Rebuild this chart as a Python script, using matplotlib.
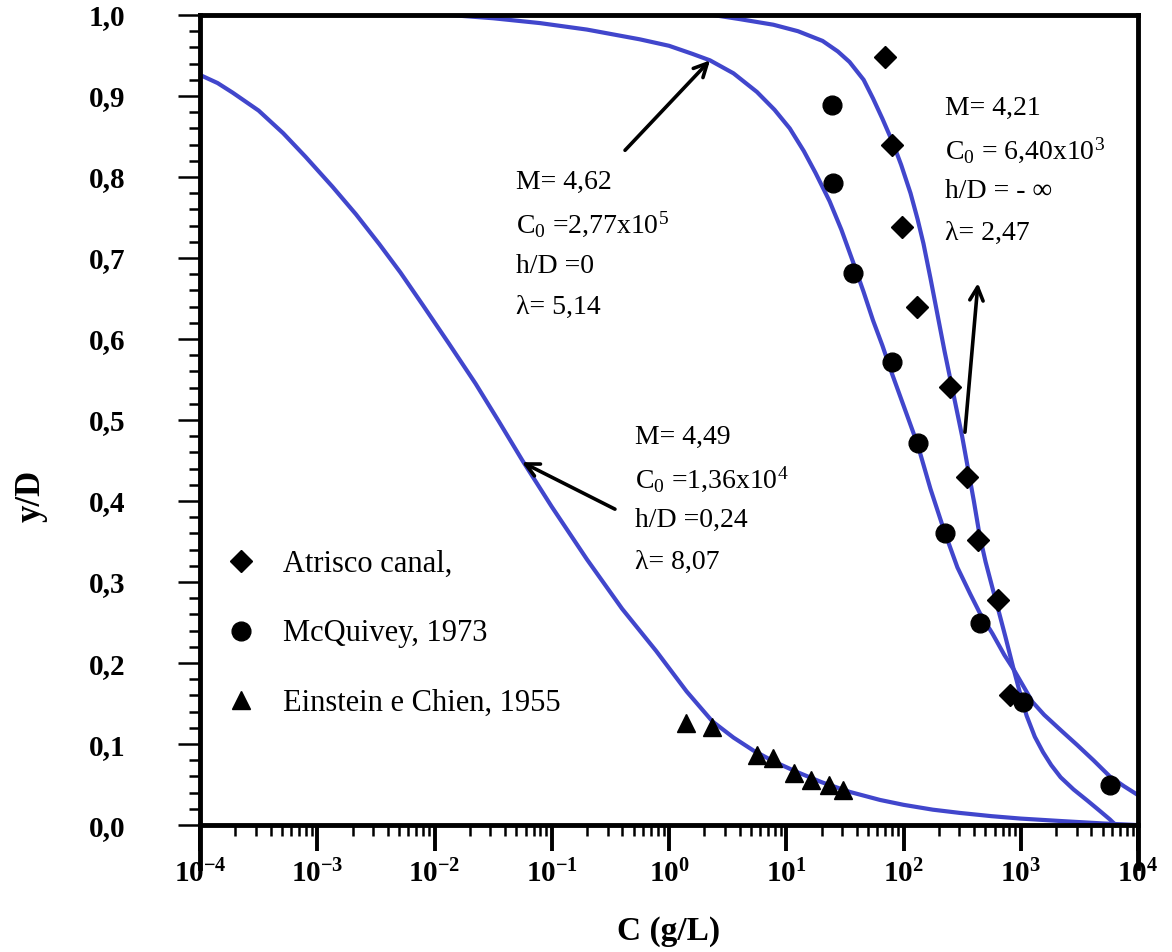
import numpy as np
import matplotlib
matplotlib.use('Agg')
import matplotlib.pyplot as plt
from matplotlib.ticker import FixedLocator, FixedFormatter, NullFormatter

plt.rcParams['font.family'] = ['Liberation Serif', 'DejaVu Serif']
plt.rcParams['mathtext.fontset'] = 'custom'
plt.rcParams['mathtext.rm'] = 'Liberation Serif'
plt.rcParams['mathtext.it'] = 'Liberation Serif:italic'
plt.rcParams['mathtext.bf'] = 'Liberation Serif:bold'

# --- dados medidos ---
# Atrisco canal
atrisco_c = [69.5, 79.8, 97.0, 130.0, 249.0, 348.0, 432.0, 640.0, 810.0]
atrisco_y = [0.948, 0.840, 0.738, 0.640, 0.541, 0.430, 0.352, 0.278, 0.160]

# McQuivey, 1973
mcq_c = [24.5, 25.1, 37.1, 79.8, 133.0, 226.0, 449.0, 1045.0, 5770.0]
mcq_y = [0.889, 0.793, 0.681, 0.572, 0.472, 0.360, 0.249, 0.152, 0.049]

# Einstein e Chien, 1955
ec_c = [1.40, 2.33, 5.64, 7.71, 11.6, 16.3, 23.2, 30.5]
ec_y = [0.126, 0.121, 0.086, 0.083, 0.064, 0.056, 0.049, 0.043]

# --- curvas do modelo (log10 C, y/D) ---
curva_ec_logc = [-4.00, -3.85, -3.72, -3.50, -3.29, -3.10, -2.87, -2.67,
                 -2.47, -2.29, -2.10, -1.88, -1.65, -1.45, -1.25, -1.00,
                 -0.70, -0.40, -0.11, 0.15, 0.37, 0.55, 0.72, 0.90, 1.10,
                 1.30, 1.54, 1.80, 2.00, 2.25, 2.48, 2.75, 3.00, 3.34,
                 3.70, 4.00]
curva_ec_y = [0.926, 0.916, 0.904, 0.882, 0.854, 0.825, 0.788, 0.754,
              0.717, 0.682, 0.642, 0.595, 0.545, 0.498, 0.450, 0.393,
              0.328, 0.267, 0.215, 0.165, 0.128, 0.108, 0.092, 0.078, 0.065,
              0.053, 0.041, 0.031, 0.025, 0.019, 0.015, 0.011, 0.008, 0.005,
              0.002, 0.000]

curva_mcq_logc = [-1.87, -1.50, -1.10, -0.70, -0.25, 0.00, 0.20, 0.35, 0.55,
                  0.75, 0.90, 1.03, 1.15, 1.25, 1.37, 1.47, 1.57, 1.66,
                  1.74, 1.82, 1.90, 2.00, 2.12, 2.23, 2.35, 2.46, 2.57,
                  2.65, 2.76, 2.86, 2.94, 3.02, 3.10, 3.20, 3.35, 3.48,
                  3.62, 3.76, 3.88, 4.00]
curva_mcq_y = [1.000, 0.996, 0.990, 0.982, 0.970, 0.962, 0.952, 0.944, 0.928,
               0.905, 0.883, 0.860, 0.832, 0.805, 0.770, 0.735, 0.695, 0.658,
               0.623, 0.592, 0.558, 0.518, 0.470, 0.415, 0.362, 0.318, 0.285,
               0.262, 0.236, 0.210, 0.192, 0.172, 0.152, 0.136, 0.116, 0.099,
               0.080, 0.060, 0.048, 0.037]

curva_atr_logc = [0.375, 0.60, 0.89, 1.10, 1.31, 1.44, 1.54, 1.66, 1.74,
                  1.82, 1.91, 1.98, 2.06, 2.12, 2.17, 2.23, 2.29, 2.35,
                  2.40, 2.45, 2.50, 2.55, 2.60, 2.65, 2.70, 2.76, 2.81,
                  2.87, 2.94, 2.99, 3.05, 3.12, 3.19, 3.26, 3.34, 3.45,
                  3.57, 3.67, 3.76, 3.81]
curva_atr_y = [1.000, 0.995, 0.988, 0.980, 0.968, 0.955, 0.942, 0.920, 0.897,
               0.872, 0.842, 0.815, 0.780, 0.748, 0.718, 0.675, 0.630, 0.585,
               0.550, 0.515, 0.480, 0.440, 0.400, 0.357, 0.325, 0.292, 0.265,
               0.232, 0.192, 0.165, 0.135, 0.109, 0.090, 0.074, 0.059, 0.044,
               0.030, 0.018, 0.007, 0.000]

x_ticks = [1e-4, 1e-3, 1e-2, 1e-1, 1e0, 1e1, 1e2, 1e3, 1e4]
x_labels = [r'$\mathbf{10^{-4}}$', r'$\mathbf{10^{-3}}$', r'$\mathbf{10^{-2}}$',
            r'$\mathbf{10^{-1}}$', r'$\mathbf{10^{0}}$', r'$\mathbf{10^{1}}$',
            r'$\mathbf{10^{2}}$', r'$\mathbf{10^{3}}$', r'$\mathbf{10^{4}}$']
y_ticks = [0.0, 0.1, 0.2, 0.3, 0.4, 0.5, 0.6, 0.7, 0.8, 0.9, 1.0]
y_labels = ['0,0', '0,1', '0,2', '0,3', '0,4', '0,5', '0,6', '0,7', '0,8',
            '0,9', '1,0']

AZUL = '#4146CC'

fig = plt.figure(figsize=(11.72, 9.52), dpi=100)
ax = fig.add_axes([200 / 1172, 1 - 868 / 952, 938 / 1172, 853 / 952])

# curvas
for lc, yy in [(curva_ec_logc, curva_ec_y), (curva_mcq_logc, curva_mcq_y),
               (curva_atr_logc, curva_atr_y)]:
    ax.plot(10.0 ** np.array(lc), yy, color=AZUL, lw=3, zorder=2,
            solid_joinstyle='round')

# pontos
ax.plot(atrisco_c, atrisco_y, 'D', ms=11.5, color='black', ls='none',
        zorder=3, label='Atrisco canal,')
ax.plot(mcq_c, mcq_y, 'o', ms=13.5, color='black', ls='none',
        zorder=3, label='McQuivey, 1973')
ax.plot(ec_c, ec_y, '^', ms=13, color='black', ls='none',
        zorder=3, label='Einstein e Chien, 1955')

ax.set_xscale('log')
ax.set_xlim(1e-4, 1e4)
ax.set_ylim(-0.053, 1.0)

# eixos
for s in ['left', 'right', 'top', 'bottom']:
    ax.spines[s].set_linewidth(3.5)
    ax.spines[s].set_color('black')
ax.spines['bottom'].set_position(('data', 0.0))

ax.xaxis.set_major_locator(FixedLocator(x_ticks))
ax.xaxis.set_major_formatter(FixedFormatter(x_labels))
minors = [m * 10.0 ** k for k in range(-4, 4) for m in range(2, 10)]
ax.xaxis.set_minor_locator(FixedLocator(minors))
ax.xaxis.set_minor_formatter(NullFormatter())
ax.tick_params(axis='x', which='major', direction='out', length=19, width=2.8,
               labelsize=21, pad=6)
ax.tick_params(axis='x', which='minor', direction='out', length=8, width=1.8)

ax.yaxis.set_major_locator(FixedLocator(y_ticks))
ax.yaxis.set_major_formatter(FixedFormatter(y_labels))
ax.yaxis.set_minor_locator(FixedLocator(np.round(np.arange(0, 1.001, 0.02), 2)))
ax.tick_params(axis='y', which='major', direction='out', length=16, width=1.8,
               labelsize=21, pad=38)
ax.tick_params(axis='y', which='minor', direction='out', length=8, width=1.8)
for lab in ax.get_yticklabels():
    lab.set_fontweight('bold')

ax.set_ylabel('y/D', fontsize=25, fontweight='bold')
ax.yaxis.set_label_coords(-0.162, 0.436)
ax.set_xlabel('C (g/L)', fontsize=24, fontweight='bold', labelpad=20)


def bloco(x, y_top, linhas, passo=0.0515):
    for i, t in enumerate(linhas):
        ax.text(x, y_top - i * passo, t, fontsize=20, ha='left', va='center',
                zorder=4)


bloco(0.050, 0.793, ['M= 4,62', r'C$_0$ =2,77x10$^5$', 'h/D =0', 'λ= 5,14'])
bloco(226.0, 0.885, ['M= 4,21', r'C$_0$ = 6,40x10$^3$', 'h/D = - ∞',
                     'λ= 2,47'], passo=0.0515)
bloco(0.513, 0.479, ['M= 4,49', r'C$_0$ =1,36x10$^4$', 'h/D =0,24',
                     'λ= 8,07'])

seta = dict(arrowstyle='->', color='black', lw=2.6, mutation_scale=24,
            shrinkA=0, shrinkB=0)
ax.annotate('', xy=(10 ** 0.350, 0.944), xytext=(10 ** -0.375, 0.833),
            arrowprops=seta, zorder=4)
ax.annotate('', xy=(10 ** -1.254, 0.448), xytext=(10 ** -0.461, 0.390),
            arrowprops=seta, zorder=4)
ax.annotate('', xy=(10 ** 2.635, 0.669), xytext=(10 ** 2.524, 0.485),
            arrowprops=seta, zorder=4)

ax.legend(loc='upper left', bbox_to_anchor=(226 / 1172, 1 - 550 / 952),
          bbox_transform=fig.transFigure, frameon=False, handlelength=1.0,
          handletextpad=0.85, labelspacing=1.32, borderpad=0, borderaxespad=0,
          prop={'family': 'Liberation Serif', 'size': 22}, numpoints=1)

fig.savefig('out.png', dpi=100)
